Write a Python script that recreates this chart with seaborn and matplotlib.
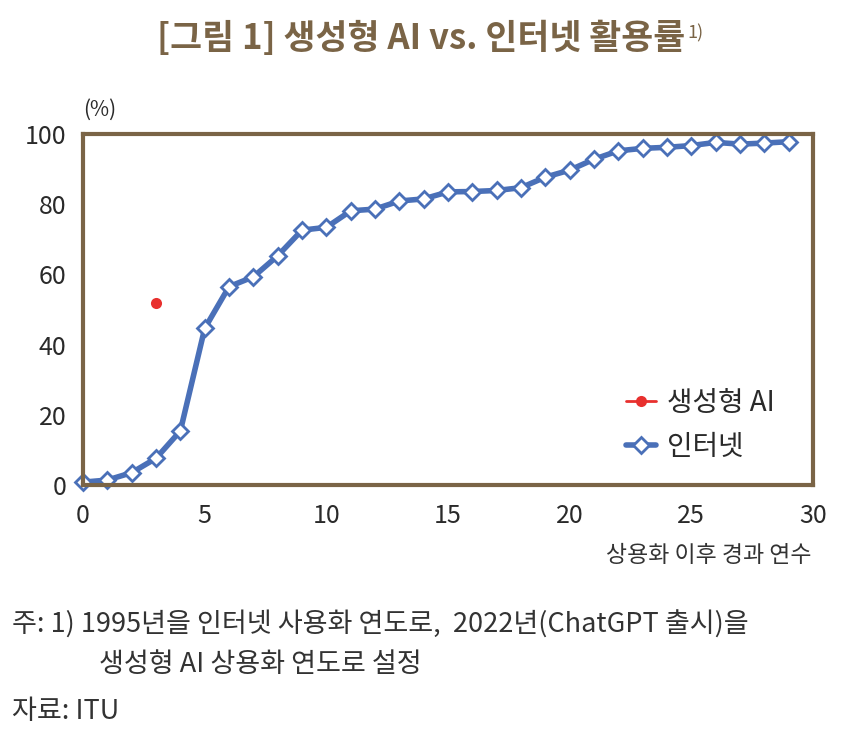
import numpy as np
import pandas as pd
import matplotlib
matplotlib.use("Agg")
import matplotlib.pyplot as plt
import seaborn as sns

# years since commercialisation
years = list(range(30))
internet = [0.8, 1.4, 3.5, 7.6, 15.4, 44.6, 56.5, 59.3, 65.3, 72.6,
            73.4, 78.1, 78.6, 80.9, 81.5, 83.5, 83.6, 83.9, 84.7, 87.7,
            89.7, 92.8, 95.2, 95.9, 96.2, 96.7, 97.6, 97.1, 97.4, 97.8]
genai_years = [3]
genai = [51.8]

title = "[그림 1] 생성형 AI vs. 인터넷 활용률"
note1 = "주: 1) 1995년을 인터넷 사용화 연도로,  2022년(ChatGPT 출시)을"
note2 = "생성형 AI 상용화 연도로 설정"
source = "자료: ITU"

sns.set_theme(style="white")
plt.rcParams['font.family'] = ['Noto Sans CJK KR', 'DejaVu Sans']

brown = "#7a6446"
blue = "#4a70b8"
red = "#e8302e"
dark = "#2a2a2a"

fig = plt.figure(figsize=(8.43, 7.43), dpi=100)
ax = fig.add_axes([0.0985, 0.3473, 0.866, 0.4724])

df_ai = pd.DataFrame({"x": genai_years, "y": genai})
df_net = pd.DataFrame({"x": years, "y": internet})

sns.lineplot(data=df_ai, x="x", y="y", ax=ax, color=red, marker="o",
             markersize=8, markeredgewidth=0, linewidth=2, label="생성형 AI")
sns.lineplot(data=df_net, x="x", y="y", ax=ax, color=blue, linewidth=4,
             marker="D", markersize=8, markerfacecolor="white",
             markeredgecolor=blue, markeredgewidth=2, label="인터넷")

ax.set_xlim(0, 30)
ax.set_ylim(0, 100)
ax.set_xticks(range(0, 31, 5))
ax.set_yticks(range(0, 101, 20))
ax.tick_params(axis="both", length=0, labelsize=18, colors=dark)
ax.tick_params(axis="y", pad=12)
ax.tick_params(axis="x", pad=13)
ax.set_xlabel("")
ax.set_ylabel("")
for s in ax.spines.values():
    s.set_color(brown)
    s.set_linewidth(3)
    s.set_visible(True)
for ln in ax.lines:
    ln.set_clip_on(False)

leg = ax.legend(loc="lower right", bbox_to_anchor=(0.982, -0.005), frameon=False,
                fontsize=20, handlelength=1.1, handletextpad=0.4,
                labelspacing=0.5)
for t in leg.get_texts():
    t.set_color(dark)

t1 = fig.text(0.5, 0.948, title, ha="center", va="center", fontsize=25,
              color=brown, fontweight="bold")
fig.canvas.draw()
bb = t1.get_window_extent()
fig.text(bb.x1 / fig.bbox.width + 0.002, bb.y1 / fig.bbox.height - 0.004, "1)",
         ha="left", va="top", fontsize=13, color=brown)

fig.text(0.118, 0.852, "(%)", ha="center", va="center", fontsize=15,
         color=dark)
fig.text(0.963, 0.253, "상용화 이후 경과 연수", ha="right", va="center",
         fontsize=16.5, color="#333333")
fig.text(0.014, 0.159, note1, ha="left", va="center", fontsize=19.5,
         color="#333333")
fig.text(0.118, 0.106, note2, ha="left", va="center", fontsize=19.5,
         color="#333333")
fig.text(0.014, 0.042, source, ha="left", va="center", fontsize=19.5,
         color="#333333")

fig.savefig("out.png", dpi=100)
